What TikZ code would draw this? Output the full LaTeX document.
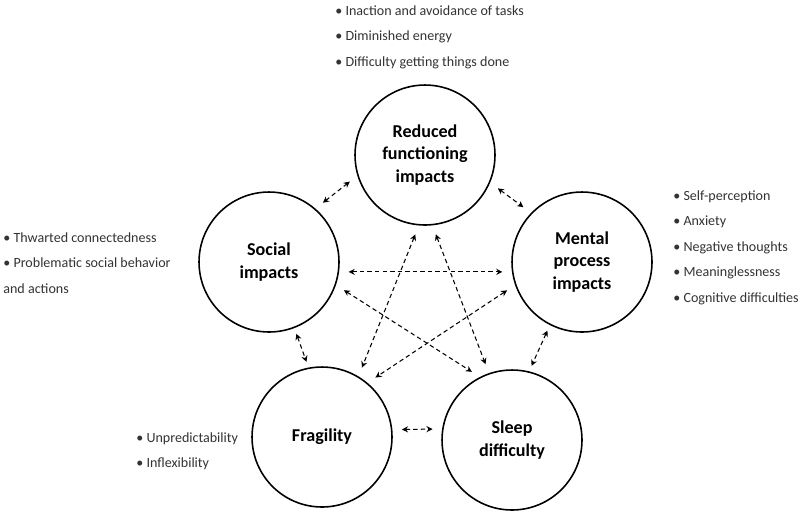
\documentclass[tikz,border=0pt]{standalone}
\usepackage{fontspec}
\setmainfont{Carlito}
\usetikzlibrary{arrows.meta}

\tikzset{
	impact/.style={circle, draw, line width=0.9pt, minimum size=2.8cm, inner sep=0pt,
		align=center, font=\fontsize{10.3}{13}\selectfont\bfseries},
	items/.style={anchor=north west, inner sep=0pt, align=left, text=black!80,
		font=\fontsize{8}{14.5}\selectfont},
	link/.style={{Stealth[length=3.5pt,width=3.5pt]}-{Stealth[length=3.5pt,width=3.5pt]},
		dash pattern=on 2.5pt off 1.8pt, line width=0.6pt,
		shorten <=0.19cm, shorten >=0.19cm}
}

\begin{document}
\begin{tikzpicture}[x=0.02cm, y=-0.02cm]
		\useasboundingbox (0,0) rectangle (800,515);
		
		% the five impacts
		\node[impact] (reduced) at (425,155) {Reduced\\functioning\\impacts};
		\node[impact] (social) at (269,262) {Social\\impacts};
		\node[impact] (mental) at (582,262) {Mental\\process\\impacts};
		\node[impact] (fragility) at (322,437) {Fragility};
		\node[impact] (sleep) at (512,440) {Sleep\\difficulty};
		
		% lists next to them
		\node[items] (reducedlist) at (335,5) {• Inaction and avoidance of tasks\\• Diminished energy\\• Difficulty getting things done};
		\node[items] (sociallist) at (3,232) {• Thwarted connectedness\\• Problematic social behavior\\and actions};
		\node[items] (mentallist) at (673,190) {• Self-perception\\• Anxiety\\• Negative thoughts\\• Meaninglessness\\• Cognitive difficulties};
		\node[items] (fragilitylist) at (136,432) {• Unpredictability\\• Inflexibility};
		
		% links
		\draw[link] (social.49) -- (reduced.197);
		\draw[link] (reduced.-23) -- (mental.136);
		\draw[link] (social.-8) -- (mental.188);
		\draw[link] (social.-19) -- (sleep.117);
		\draw[link] (reduced.265) -- (fragility.59);
		\draw[link] (reduced.276) -- (sleep.109);
		\draw[link] (mental.199) -- (fragility.50);
		\draw[link, shorten <=0.12cm, shorten >=0.12cm] (mental.243) -- (sleep.76);
		\draw[link, shorten <=0.12cm, shorten >=0.12cm] (social.-69) -- (fragility.101);
		\draw[link] (fragility.6) -- (sleep.171);
		
\end{tikzpicture}
\end{document}
